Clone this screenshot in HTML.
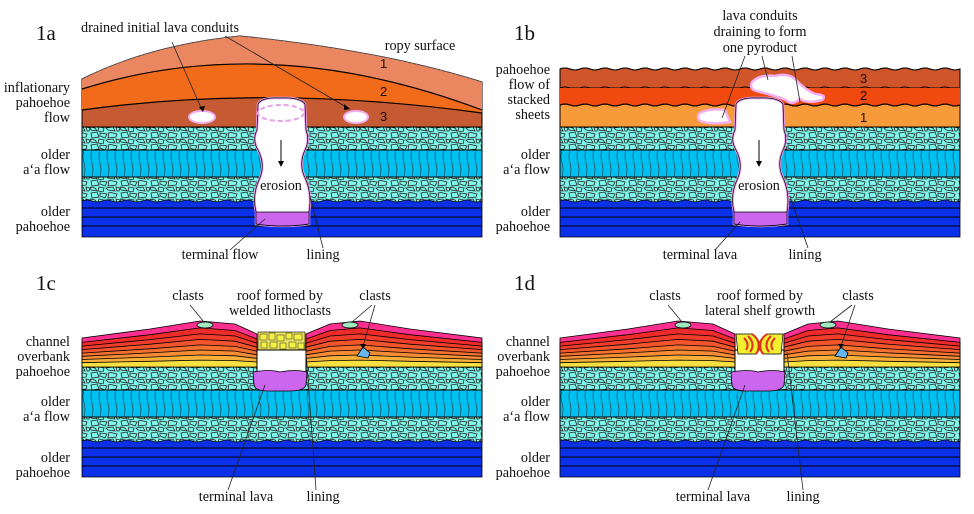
<!DOCTYPE html>
<html><head><meta charset="utf-8"><style>
html,body{margin:0;padding:0;background:#fff}
svg{display:block}
text{font-family:"Liberation Serif",serif;font-size:14.2px;fill:#111}
.n{font-family:"Liberation Sans",sans-serif;font-size:13px}
.p{font-size:21px}
.r{text-anchor:end}.m{text-anchor:middle}
.ld{stroke:#222;stroke-width:0.8;fill:none}
</style></head><body>
<svg width="974" height="514" viewBox="0 0 974 514" xmlns="http://www.w3.org/2000/svg">
<defs>
<pattern id="rub" width="30" height="12" patternUnits="userSpaceOnUse">
<rect width="30" height="12" fill="#7ff6ea"/>
<path d="M1,1 L7,0 L9,5 L2,6 Z M10,1 L17,2 L15,6 L10,4 Z M19,0 L27,2 L26,5 L18,6 Z M0,7 L5,8 L7,11 L1,10 Z M9,7 L14,8 L13,12 L8,11 Z M16,8 L23,7 L25,11 L18,10 Z M26,7 L30,8 L29,11 L27,11 Z" fill="none" stroke="#222" stroke-width="0.8"/>
</pattern>
<pattern id="aa" width="8" height="27" patternUnits="userSpaceOnUse" y="150">
<rect width="8" height="27" fill="#00c0f2"/>
<path d="M4,0 Q2,7 4,13 Q6,20 4,27" fill="none" stroke="#333" stroke-width="0.6"/>
</pattern>
<g id="low">
<rect x="82" y="127" width="400" height="23" fill="url(#rub)" stroke="#000"/>
<rect x="82" y="150" width="400" height="27" fill="url(#aa)" stroke="#000"/>
<rect x="82" y="177" width="400" height="25" fill="url(#rub)" stroke="#000"/>
<path d="M82,201 q5,-2 10,0 t10,0 t10,0 t10,0 t10,0 t10,0 t10,0 t10,0 t10,0 t10,0 t10,0 t10,0 t10,0 t10,0 t10,0 t10,0 t10,0 t10,0 t10,0 t10,0 t10,0 t10,0 t10,0 t10,0 t10,0 t10,0 t10,0 t10,0 t10,0 t10,0 t10,0 t10,0 t10,0 t10,0 t10,0 t10,0 t10,0 t10,0 t10,0 t10,0 L482,237 L82,237 Z" fill="#0a30e8" stroke="#000" stroke-width="0.8"/>
<path d="M82,208 H482 M82,217 H482 M82,226 H482" stroke="#000" stroke-width="1"/>
</g>
<g id="ob" stroke="#000" stroke-width="0.8">
<polygon fill="#ff2f8f" points="82,338 150,329 200,321 235,324 257,334 257,367 82,367"/>
<polygon fill="#ee2a2a" points="82,342.4 150,334.7 200,327.9 235,330.5 257,339 257,367 82,367"/>
<polygon fill="#f03c2a" points="82,346.1 150,339.6 200,333.9 235,336 257,343.2 257,367 82,367"/>
<polygon fill="#f2552c" points="82,349.6 150,344.2 200,339.4 235,341.2 257,347.2 257,367 82,367"/>
<polygon fill="#f4702e" points="82,353.1 150,348.8 200,344.9 235,346.4 257,351.2 257,367 82,367"/>
<polygon fill="#f68c34" points="82,356.3 150,352.9 200,350 235,351.1 257,354.8 257,367 82,367"/>
<polygon fill="#f8b03a" points="82,359.5 150,357.1 200,355 235,355.8 257,358.4 257,367 82,367"/>
<polygon fill="#f8e040" points="82,362.7 150,361.3 200,360.1 235,360.6 257,362 257,367 82,367"/>
<polygon fill="#ff2f8f" points="306,334 330,324 360,321 410,329 482,338 482,367 306,367"/>
<polygon fill="#ee2a2a" points="306,339 330,330.5 360,327.9 410,334.7 482,342.4 482,367 306,367"/>
<polygon fill="#f03c2a" points="306,343.2 330,336 360,333.9 410,339.6 482,346.1 482,367 306,367"/>
<polygon fill="#f2552c" points="306,347.2 330,341.2 360,339.4 410,344.2 482,349.6 482,367 306,367"/>
<polygon fill="#f4702e" points="306,351.2 330,346.4 360,344.9 410,348.8 482,353.1 482,367 306,367"/>
<polygon fill="#f68c34" points="306,354.8 330,351.1 360,350 410,352.9 482,356.3 482,367 306,367"/>
<polygon fill="#f8b03a" points="306,358.4 330,355.8 360,355 410,357.1 482,359.5 482,367 306,367"/>
<polygon fill="#f8e040" points="306,362 330,360.6 360,360.1 410,361.3 482,362.7 482,367 306,367"/>
<ellipse cx="205" cy="325" rx="8" ry="3" fill="#a0e8c0"/>
<ellipse cx="350" cy="325" rx="8" ry="3" fill="#a0e8c0"/>
<path d="M357,356 L363,347 L370,353 L368,358 Z" fill="#66b8f0"/>
</g>
<g id="cond">
<path d="M258,104 Q262,97 280,98 Q300,97 305,104 L306,130 Q310,140 305,150 Q298,165 306,180 Q312,195 309,212 L309,224 Q282,228 256,224 L256,212 Q252,195 259,180 Q266,165 258,150 Q252,140 257,130 Z" fill="#fff" stroke="#e8a0e8" stroke-width="2.5"/>
<path d="M258,104 Q262,97 280,98 Q300,97 305,104 L306,130 Q310,140 305,150 Q298,165 306,180 Q312,195 309,212 L309,224 Q282,228 256,224 L256,212 Q252,195 259,180 Q266,165 258,150 Q252,140 257,130 Z" fill="none" stroke="#000" stroke-width="0.7"/>
<path d="M256,212 L309,212 L309,224 Q282,228 256,224 Z" fill="#cc66ee" stroke="#000" stroke-width="0.7"/>
<path d="M281,140 V163" stroke="#000" stroke-width="1"/><path d="M278,161 L281,167 L284,161 Z" fill="#000"/>
<text x="281" y="190" class="m">erosion</text>
</g>
</defs>

<!-- 1a -->
<path d="M82,79 Q150,45 240,36 Q380,50 482,82 L482,127 L82,127 Z" fill="#c65a32" stroke="#000"/>
<path d="M82,79 Q150,45 240,36 Q380,50 482,82 L482,110 Q270,30 82,89 Z" fill="#ea8760"/>
<path d="M82,89 Q270,30 482,110 L482,113 Q270,84 82,110 Z" fill="#f26b1a"/>
<path d="M82,89 Q270,30 482,110 M82,110 Q270,84 482,113" stroke="#000" fill="none" stroke-width="1.2"/>
<path d="M82,79 Q150,45 240,36 Q380,50 482,82" stroke="#555" fill="none" stroke-width="1" stroke-dasharray="3 2"/>
<use href="#low"/>
<use href="#cond"/>
<ellipse cx="281" cy="113" rx="23" ry="8" fill="none" stroke="#e8a0e8" stroke-width="2" stroke-dasharray="5 3"/>
<ellipse cx="202" cy="117" rx="13" ry="6" fill="#fff" stroke="#f0b0f0" stroke-width="2"/>
<ellipse cx="356" cy="117" rx="12" ry="6" fill="#fff" stroke="#f0b0f0" stroke-width="2"/>
<text x="36" y="40" class="p">1a</text>
<text x="160" y="32" class="m">drained initial lava conduits</text>
<text x="420" y="50" class="m">ropy surface</text>
<text x="380" y="68" class="n">1</text><text x="380" y="96" class="n">2</text><text x="380" y="121" class="n">3</text>
<text x="70" y="92" class="r">inflationary</text><text x="70" y="107" class="r">pahoehoe</text><text x="70" y="122" class="r">flow</text>
<text x="70" y="159" class="r">older</text><text x="70" y="174" class="r">a‘a flow</text>
<text x="70" y="216" class="r">older</text><text x="70" y="231" class="r">pahoehoe</text>
<text x="220" y="259" class="m">terminal flow</text><text x="323" y="259" class="m">lining</text>
<path class="ld" d="M172,42 L202,110 M225,36 L348,108 M230,250 L265,219 M323,248 L310,196"/>
<path d="M199,107 L203,112 L205,106 Z M344,104 L350,109 L344,110 Z" fill="#000"/>

<!-- 1b -->
<path d="M560,69 q5,-2 10,0 t10,0 t10,0 t10,0 t10,0 t10,0 t10,0 t10,0 t10,0 t10,0 t10,0 t10,0 t10,0 t10,0 t10,0 t10,0 t10,0 t10,0 t10,0 t10,0 t10,0 t10,0 t10,0 t10,0 t10,0 t10,0 t10,0 t10,0 t10,0 t10,0 t10,0 t10,0 t10,0 t10,0 t10,0 t10,0 t10,0 t10,0 t10,0 t10,0 L960,127 L560,127 Z" fill="#f79a3a" stroke="#000"/>
<path d="M560,69 q5,-2 10,0 t10,0 t10,0 t10,0 t10,0 t10,0 t10,0 t10,0 t10,0 t10,0 t10,0 t10,0 t10,0 t10,0 t10,0 t10,0 t10,0 t10,0 t10,0 t10,0 t10,0 t10,0 t10,0 t10,0 t10,0 t10,0 t10,0 t10,0 t10,0 t10,0 t10,0 t10,0 t10,0 t10,0 t10,0 t10,0 t10,0 t10,0 t10,0 t10,0 L960,105 L560,105 Z" fill="#f04a10"/>
<path d="M560,69 q5,-2 10,0 t10,0 t10,0 t10,0 t10,0 t10,0 t10,0 t10,0 t10,0 t10,0 t10,0 t10,0 t10,0 t10,0 t10,0 t10,0 t10,0 t10,0 t10,0 t10,0 t10,0 t10,0 t10,0 t10,0 t10,0 t10,0 t10,0 t10,0 t10,0 t10,0 t10,0 t10,0 t10,0 t10,0 t10,0 t10,0 t10,0 t10,0 t10,0 t10,0 L960,88 L560,88 Z" fill="#d0552a" stroke="#000"/>
<path d="M560,88 q5,-2 10,0 t10,0 t10,0 t10,0 t10,0 t10,0 t10,0 t10,0 t10,0 t10,0 t10,0 t10,0 t10,0 t10,0 t10,0 t10,0 t10,0 t10,0 t10,0 t10,0 t10,0 t10,0 t10,0 t10,0 t10,0 t10,0 t10,0 t10,0 t10,0 t10,0 t10,0 t10,0 t10,0 t10,0 t10,0 t10,0 t10,0 t10,0 t10,0 t10,0 M560,105 q5,-2 10,0 t10,0 t10,0 t10,0 t10,0 t10,0 t10,0 t10,0 t10,0 t10,0 t10,0 t10,0 t10,0 t10,0 t10,0 t10,0 t10,0 t10,0 t10,0 t10,0 t10,0 t10,0 t10,0 t10,0 t10,0 t10,0 t10,0 t10,0 t10,0 t10,0 t10,0 t10,0 t10,0 t10,0 t10,0 t10,0 t10,0 t10,0 t10,0 t10,0" fill="#f04a10" stroke="#000"/>
<rect x="560" y="88" width="400" height="2" fill="#f04a10"/>
<path d="M560,105 q5,-2 10,0 t10,0 t10,0 t10,0 t10,0 t10,0 t10,0 t10,0 t10,0 t10,0 t10,0 t10,0 t10,0 t10,0 t10,0 t10,0 t10,0 t10,0 t10,0 t10,0 t10,0 t10,0 t10,0 t10,0 t10,0 t10,0 t10,0 t10,0 t10,0 t10,0 t10,0 t10,0 t10,0 t10,0 t10,0 t10,0 t10,0 t10,0 t10,0 t10,0" fill="none" stroke="#000"/>
<use href="#low" x="478"/>
<use href="#cond" x="478"/>
<path d="M752,82 Q760,74 775,76 Q790,72 798,82 Q806,90 815,94 Q828,95 822,100 Q808,104 800,99 Q792,106 786,100 Q770,94 760,92 Q748,90 752,82 Z" fill="#fff" stroke="#f4b0f0" stroke-width="2.5"/>
<path d="M702,112 Q712,108 725,110 L730,122 Q712,125 700,121 Q695,115 702,112 Z" fill="#fff" stroke="#f4b0f0" stroke-width="2.5"/>
<text x="36" y="40" class="p" dx="478">1b</text>
<text x="760" y="20" class="m">lava conduits</text><text x="760" y="36" class="m">draining to form</text><text x="760" y="52" class="m">one pyroduct</text>
<text x="860" y="83" class="n">3</text><text x="860" y="100" class="n">2</text><text x="860" y="122" class="n">1</text>
<text x="550" y="74" class="r">pahoehoe</text><text x="550" y="89" class="r">flow of</text><text x="550" y="104" class="r">stacked</text><text x="550" y="119" class="r">sheets</text>
<text x="550" y="159" class="r">older</text><text x="550" y="174" class="r">a‘a flow</text>
<text x="550" y="216" class="r">older</text><text x="550" y="231" class="r">pahoehoe</text>
<text x="700" y="259" class="m">terminal lava</text><text x="805" y="259" class="m">lining</text>
<path class="ld" d="M745,56 L722,118 M762,56 L768,80 M792,56 L800,102 M715,250 L740,222 M808,248 L790,196"/>

<!-- 1c -->
<use href="#low" y="240"/>
<use href="#ob"/>
<rect x="258" y="332" width="47" height="18" fill="#e8e060" stroke="#000" stroke-width="0.6"/>
<path d="M260,334 h7 v6 h-7 Z M269,333 h6 v7 h-6 Z M277,335 h7 v6 h-7 Z M286,333 h6 v6 h-6 Z M294,334 h8 v6 h-8 Z M261,342 h6 v6 h-6 Z M270,342 h7 v6 h-7 Z M280,343 h6 v6 h-6 Z M289,342 h7 v6 h-7 Z M298,343 h6 v6 h-6 Z" fill="#f4f040" stroke="#333" stroke-width="0.5"/>
<rect x="257" y="350" width="49" height="22" fill="#fff" stroke="#000"/>
<path d="M253,372 Q270,369 280,372 Q295,369 307,372 L306,385 Q304,391 290,391 L268,391 Q255,391 254,385 Z" fill="#cc66ee" stroke="#000" stroke-width="0.8"/>
<text x="36" y="290" class="p">1c</text>
<text x="188" y="300" class="m">clasts</text><text x="375" y="300" class="m">clasts</text>
<text x="280" y="300" class="m">roof formed by</text><text x="280" y="315" class="m">welded lithoclasts</text>
<text x="70" y="346" class="r">channel</text><text x="70" y="361" class="r">overbank</text><text x="70" y="376" class="r">pahoehoe</text>
<text x="70" y="406" class="r">older</text><text x="70" y="421" class="r">a‘a flow</text>
<text x="70" y="462" class="r">older</text><text x="70" y="477" class="r">pahoehoe</text>
<text x="236" y="501" class="m">terminal lava</text><text x="323" y="501" class="m">lining</text>
<path class="ld" d="M190,305 L204,322 M372,305 L352,322 M375,305 L363,346 M228,490 L265,385 M316,490 L306,352"/>
<path d="M360,344 L363,349 L366,344 Z" fill="#000"/>

<!-- 1d -->
<use href="#low" x="478" y="240"/>
<use href="#ob" x="478"/>
<rect x="735" y="350" width="49" height="22" fill="#fff" stroke="#000"/>
<path d="M736,334 L752,334 Q762,342 756,354 L738,354 Z" fill="#f0f030" stroke="#000" stroke-width="0.7"/>
<path d="M752,334 Q764,343 756,354 M748,336 Q756,344 750,352 M744,338 Q750,344 746,350" fill="none" stroke="#e03020" stroke-width="2"/>
<path d="M783,334 L767,334 Q757,342 763,354 L781,354 Z" fill="#f0f030" stroke="#000" stroke-width="0.7"/>
<path d="M767,334 Q755,343 763,354 M771,336 Q763,344 769,352 M775,338 Q769,344 773,350" fill="none" stroke="#e03020" stroke-width="2"/>
<path d="M731,372 Q748,369 758,372 Q773,369 785,372 L784,385 Q782,391 768,391 L746,391 Q733,391 732,385 Z" fill="#cc66ee" stroke="#000" stroke-width="0.8"/>
<text x="36" y="290" class="p" dx="478">1d</text>
<text x="665" y="300" class="m">clasts</text><text x="858" y="300" class="m">clasts</text>
<text x="760" y="300" class="m">roof formed by</text><text x="760" y="315" class="m">lateral shelf growth</text>
<text x="550" y="346" class="r">channel</text><text x="550" y="361" class="r">overbank</text><text x="550" y="376" class="r">pahoehoe</text>
<text x="550" y="406" class="r">older</text><text x="550" y="421" class="r">a‘a flow</text>
<text x="550" y="462" class="r">older</text><text x="550" y="477" class="r">pahoehoe</text>
<text x="713" y="501" class="m">terminal lava</text><text x="803" y="501" class="m">lining</text>
<path class="ld" d="M668,305 L682,322 M852,305 L830,322 M855,305 L841,346 M708,490 L745,385 M803,490 L787,352"/>
<path d="M838,344 L841,349 L844,344 Z" fill="#000"/>
</svg>
</body></html>
